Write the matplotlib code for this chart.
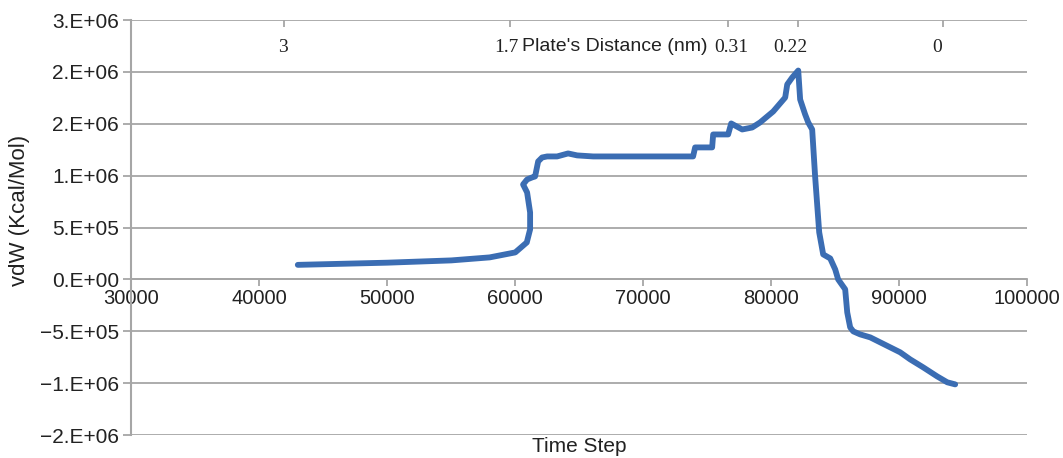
import matplotlib.pyplot as plt

# 数据
time_step = [43000, 50000, 55000, 58000, 60000, 60900, 61160, 61160, 60925, 60610,
             60925, 61320, 61550, 61710, 61790, 62100, 62490, 63270, 64130, 64840,
             66090, 70310, 73900, 74060, 75390, 75470, 76640, 76880, 77740, 78520,
             79140, 80160, 81100, 81260, 81650, 82120, 82270, 82660, 82900, 83210,
             83440, 83760, 84070, 84620, 85010, 85240, 85790, 85950, 86180, 86420,
             86960, 87750, 88530, 90090, 90870, 91890, 92980, 93770, 94390]
vdw = [140000, 161000, 183000, 212000, 260000, 356000, 482000, 645000, 838000, 915000,
       963000, 983000, 992000, 1089000, 1137000, 1175000, 1185000, 1185000, 1214000, 1195000,
       1185000, 1185000, 1185000, 1272000, 1272000, 1397000, 1397000, 1503000, 1445000, 1464000,
       1513000, 1618000, 1753000, 1879000, 1946000, 2013000, 1734000, 1590000, 1513000, 1445000,
       992000, 453000, 241000, 202000, 96000, 0, -96000, -318000, -462000, -501000,
       -530000, -559000, -607000, -703000, -771000, -848000, -935000, -992000, -1012000]

y_ticks = [-1500000, -1000000, -500000, 0, 500000, 1000000, 1500000, 2000000, 2500000]
y_labels = ["\u22122.E+06", "\u22121.E+06", "\u22125.E+05", "0.E+00", "5.E+05",
            "1.E+06", "2.E+06", "2.E+06", "3.E+06"]
x_ticks = [30000, 40000, 50000, 60000, 70000, 80000, 90000, 100000]

# 上方板间距刻度
dist_ticks = [41900, 59600, 76600, 82100, 93400]
dist_label_pos = [41850, 59280, 76880, 81490, 92980]
dist_labels = ["3", "1.7", "0.31", "0.22", "0"]

plt.rcParams["font.family"] = ["Liberation Sans", "DejaVu Sans"]
grid_c = "#a6a6a6"
txt_c = "#222222"

fig = plt.figure(figsize=(10.63, 4.58), dpi=100)
ax = fig.add_axes([0.1237, 0.0502, 0.8424, 0.9061])

ax.plot(time_step, vdw, color="#3b6db3", linewidth=4.2, solid_capstyle="round",
        solid_joinstyle="round", zorder=3)

ax.set_xlim(30000, 100000)
ax.set_ylim(-1500000, 2500000)
ax.set_yticks(y_ticks)
ax.set_yticklabels(y_labels)
ax.set_xticks(x_ticks)
ax.set_xticklabels([str(v) for v in x_ticks])
ax.grid(axis="y", color=grid_c, linewidth=1.3)

for s in ["top", "right"]:
    ax.spines[s].set_visible(False)
ax.spines["left"].set_color(grid_c)
ax.spines["left"].set_linewidth(1.5)
# x 轴放在 y=0 处
ax.spines["bottom"].set_position(("data", 0))
ax.spines["bottom"].set_color(grid_c)
ax.spines["bottom"].set_linewidth(1.3)

ax.tick_params(axis="y", length=6, width=1.3, color=grid_c, pad=3, labelsize=15, labelcolor=txt_c)
ax.tick_params(axis="x", length=5, width=1.3, color=grid_c, pad=2, labelsize=14.5, labelcolor=txt_c)

ax.set_xlabel("Time Step", fontsize=15, color=txt_c)
ax.xaxis.set_label_coords(0.5, -0.006)
ax.set_ylabel("vdW (Kcal/Mol)", fontsize=16, color=txt_c)
ax.yaxis.set_label_coords(-0.113, 0.54)

# 上方刻度（板间距）
ax2 = ax.twiny()
ax2.set_xlim(ax.get_xlim())
ax2.set_xticks(dist_label_pos)
ax2.set_xticklabels(dist_labels, family=["Liberation Serif"], fontsize=14, color=txt_c)
ax2.tick_params(axis="x", which="major", direction="in", length=0, pad=-26)
ax2.set_xticks(dist_ticks, minor=True)
ax2.tick_params(axis="x", which="minor", direction="in", length=5, width=1.3, color=grid_c)
for s in ax2.spines.values():
    s.set_visible(False)
ax2.text(67750, 2240000, "Plate's Distance (nm)", fontsize=14, color=txt_c,
         ha="center", va="center", transform=ax.transData)

fig.savefig("out.png", dpi=100)
